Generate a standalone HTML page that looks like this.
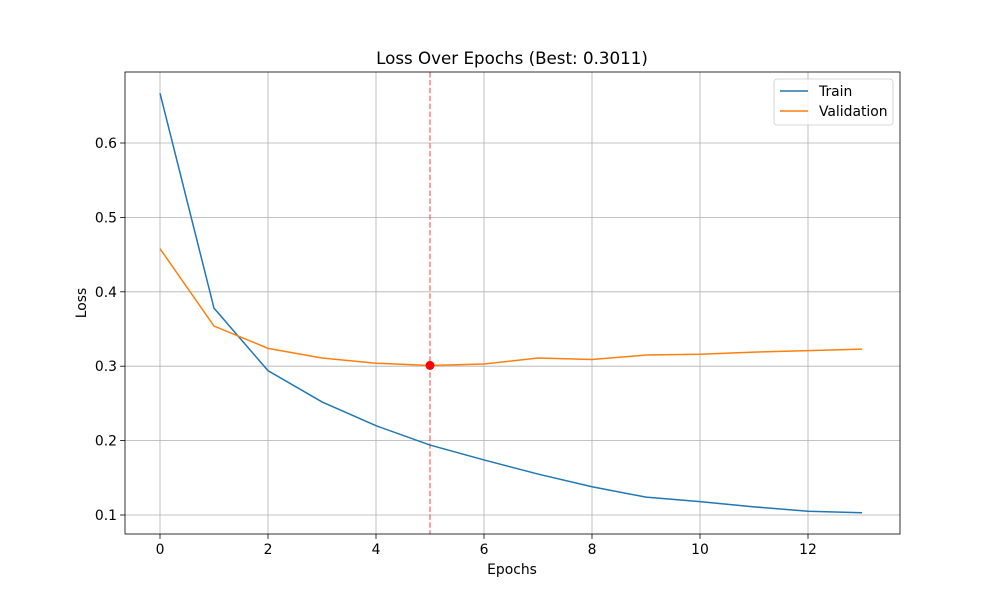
<!DOCTYPE html>
<html><head><meta charset="utf-8"><style>
body{margin:0;background:#fff;font-family:"Liberation Sans","DejaVu Sans",sans-serif;}
svg text{font-family:"DejaVu Sans","Liberation Sans",sans-serif;}
</style></head><body>
<svg id="c" width="1000" height="600" xmlns="http://www.w3.org/2000/svg"></svg>
<script>
const epochs=[0,1,2,3,4,5,6,7,8,9,10,11,12,13];
const trainLoss=[0.667,0.378,0.294,0.252,0.220,0.194,0.174,0.155,0.138,0.124,0.118,0.111,0.105,0.103];
const valLoss=[0.458,0.354,0.324,0.311,0.304,0.301,0.303,0.311,0.309,0.315,0.316,0.319,0.321,0.323];
const xTicks=[0,2,4,6,8,10,12];
const yTicks=[0.1,0.2,0.3,0.4,0.5,0.6];
const bestEpoch=5, bestVal=0.3011;

const L=125,R=900,T=72,B=534;
const xs=e=>160+e*54;
const ys=v=>143-(v-0.6)*744;
const NS="http://www.w3.org/2000/svg";
const svg=document.getElementById('c');
function mk(tag,attrs,name,parent){const el=document.createElementNS(NS,tag);for(const k in attrs)el.setAttribute(k,attrs[k]);


(parent||svg).appendChild(el);return el;}
function txt(x,y,s,size,anchor,name,extra){const t=mk('text',Object.assign({x:x,y:y,'font-size':size,'text-anchor':anchor,fill:'#000'},extra||{}),name);t.textContent=s;return t;}

xTicks.forEach(t=>{mk('line',{x1:xs(t),x2:xs(t),y1:T,y2:B,stroke:'#b0b0b0','stroke-width':0.8},'x-grid-line');
 mk('line',{x1:xs(t),x2:xs(t),y1:B,y2:B+4.9,stroke:'#000','stroke-width':0.8},'x-tick');
 txt(xs(t),B+20,String(t),13.9,'middle','x-tick-label');});
yTicks.forEach(t=>{mk('line',{x1:L,x2:R,y1:ys(t),y2:ys(t),stroke:'#b0b0b0','stroke-width':0.8},'y-grid-line');
 mk('line',{x1:L-4.9,x2:L,y1:ys(t),y2:ys(t),stroke:'#000','stroke-width':0.8},'y-tick');
 txt(L-8,ys(t)+5,t.toFixed(1),13.9,'end','y-tick-label');});

mk('line',{x1:xs(bestEpoch),x2:xs(bestEpoch),y1:T,y2:B,stroke:'#ff0000','stroke-opacity':0.5,'stroke-width':1.5,'stroke-dasharray':'5.5,2.4'},'best-epoch-line');

function series(vals,color,name){mk('polyline',{points:vals.map((v,i)=>xs(epochs[i])+','+ys(v)).join(' '),fill:'none',stroke:color,'stroke-width':1.5},name);}
series(trainLoss,'#1f77b4','train-line');
series(valLoss,'#ff7f0e','validation-line');
mk('circle',{cx:xs(bestEpoch),cy:ys(bestVal),r:4.5,fill:'#ff0000'},'best-point');

mk('rect',{x:L,y:T,width:R-L,height:B-T,fill:'none',stroke:'#000','stroke-width':0.8},'plot-frame');

txt(512,64,'Loss Over Epochs (Best: 0.3011)',16.7,'middle','chart-title');
txt(512,574,'Epochs',13.9,'middle','x-axis-title');
txt(86,303,'Loss',13.9,'middle','y-axis-title',{transform:'rotate(-90 86 303)'});

mk('rect',{x:774,y:79,width:119,height:46,rx:3,fill:'#fff','fill-opacity':0.8,stroke:'#cccccc','stroke-width':0.8},'legend-box');
mk('line',{x1:780,x2:808,y1:91,y2:91,stroke:'#1f77b4','stroke-width':1.5},'legend-train-swatch');
txt(819,96,'Train',13.9,'start','legend-train-label');
mk('line',{x1:780,x2:808,y1:111,y2:111,stroke:'#ff7f0e','stroke-width':1.5},'legend-validation-swatch');
txt(819,116,'Validation',13.9,'start','legend-validation-label');
</script>
</body></html>
